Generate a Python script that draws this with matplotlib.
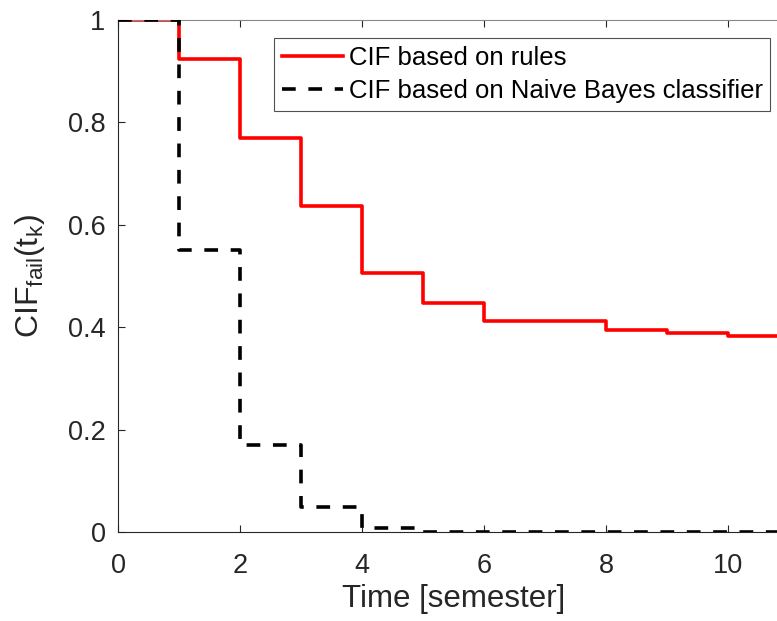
import matplotlib
matplotlib.use("Agg")
import matplotlib.pyplot as plt

plt.rcParams['font.family'] = ['Liberation Sans', 'DejaVu Sans']
plt.rcParams['mathtext.fontset'] = 'custom'
plt.rcParams['mathtext.rm'] = 'Liberation Sans'
plt.rcParams['mathtext.it'] = 'Liberation Sans'

# Data
time_points = [0, 1, 2, 3, 4, 5, 6, 7, 8, 9, 10, 11]
cif_rules = [1.0, 0.924, 0.769, 0.637, 0.505, 0.448, 0.413, 0.413, 0.395, 0.389, 0.383, 0.383]
cif_nb = [1.0, 0.551, 0.170, 0.049, 0.0085, 0.0, 0.0, 0.0, 0.0, 0.0, 0.0, 0.0]
labels = ["CIF based on rules", "CIF based on Naive Bayes classifier"]
xticks = [0, 2, 4, 6, 8, 10]
yticks = [0, 0.2, 0.4, 0.6, 0.8, 1]
yticklabels = ["0", "0.2", "0.4", "0.6", "0.8", "1"]

fig = plt.figure(figsize=(7.77, 6.21), dpi=100)
ax = fig.add_axes([118/777, 89/621, 671/777, 512/621])

axcol = '#262626'
ax.step(time_points, cif_rules, where='post', color='#ff0000', lw=2.6, label=labels[0], zorder=2)
ax.step(time_points, cif_nb, where='post', color='black', lw=2.6, dashes=(3.8, 3.5), label=labels[1], zorder=3)

ax.set_xlim(0, 11)
ax.set_ylim(0, 1)
ax.set_xticks(xticks)
ax.set_yticks(yticks)
ax.set_yticklabels(yticklabels)
ax.tick_params(direction='in', length=5, width=0.8, colors=axcol, labelsize=19.5,
               top=True, right=True)
ax.tick_params(axis='y', pad=9)
ax.tick_params(axis='x', pad=15)
for lab in ax.get_xticklabels() + ax.get_yticklabels():
    lab.set_color(axcol)
for s in ax.spines.values():
    s.set_color('#888888')
    s.set_linewidth(0.8)
ax.spines['left'].set_color(axcol)
ax.spines['bottom'].set_color(axcol)

ax.set_xlabel("Time [semester]", fontsize=22.5, color=axcol, labelpad=4)
ax.set_ylabel(r"CIF$_{\mathrm{fail}}$(t$_{\mathrm{k}}$)", fontsize=23, color=axcol, labelpad=15)

leg = ax.legend(loc='upper left', bbox_to_anchor=((274-118)/671, (532-38)/512),
                fontsize=18.5, frameon=True, fancybox=False, handlelength=2.4,
                handletextpad=0.2, borderpad=0.3, labelspacing=0.38, borderaxespad=0)
leg.get_frame().set_edgecolor('#262626')
leg.get_frame().set_linewidth(0.8)

fig.savefig("out.png", dpi=100)
